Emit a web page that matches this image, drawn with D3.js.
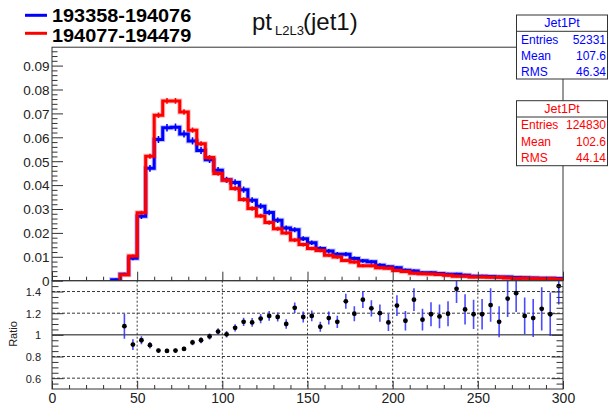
<!DOCTYPE html>
<html><head><meta charset="utf-8">
<script src="https://cdn.jsdelivr.net/npm/d3@7"></script>
<style>
body{margin:0;background:#fff}
svg{display:block}
text{font-family:"Liberation Sans",Arial,Helvetica,sans-serif}
</style>
</head><body>
<svg id="c" width="608" height="408"></svg>
<script>
// ---------------- data ----------------
const binLow = d3.range(0, 300, 5);
const binWidth = 5;
const blueVals = [0,0,0,0,0,0,0,0.0004,0.0027,0.0094,0.0270,0.0470,0.0591,0.0640,0.0642,0.0614,0.0585,0.0545,0.0506,0.0462,
  0.0422,0.0411,0.0381,0.0337,0.0312,0.0285,0.0253,0.0220,0.0213,0.0176,0.0159,0.0135,0.0124,0.0111,0.0111,0.0093,0.0083,0.0079,0.0065,0.0058,
  0.0054,0.0044,0.0041,0.0033,0.0033,0.0030,0.0027,0.0027,0.0023,0.0019,0.0019,0.0018,0.0016,0.0015,0.0013,0.0012,0.0011,0.0010,0.0010,0.0009];
const redVals = [0,0,0,0,0,0,0,0,0.0025,0.0103,0.0284,0.0521,0.0692,0.0752,0.0752,0.0706,0.0630,0.0573,0.0515,0.0449,
  0.0420,0.0386,0.0340,0.0302,0.0271,0.0243,0.0217,0.0200,0.0170,0.0151,0.0135,0.0126,0.0107,0.0099,0.0085,0.0078,0.0063,0.0063,0.0054,0.0052,
  0.0043,0.0039,0.0031,0.0029,0.0028,0.0026,0.0023,0.0019,0.0019,0.0016,0.0016,0.0014,0.0014,0.0011,0.0009,0.0010,0.00095,0.0008,0.00084,0.0006];
const ratioX = d3.range(42.5, 300, 5);
const ratioVals = [1.08,0.91,0.95,0.905,0.855,0.852,0.855,0.87,0.93,0.95,0.985,1.03,1.005,1.065,1.12,1.115,1.15,1.175,1.165,1.10,1.25,
  1.165,1.175,1.075,1.155,1.12,1.31,1.195,1.325,1.245,1.20,1.115,1.27,1.13,1.325,1.14,1.19,1.17,1.195,1.425,1.235,1.19,1.19,1.275,1.12,1.335,1.385,1.175,1.155,1.24,1.19,1.45];
const ratioErr = [0.115,0.05,0.037,0.03,0.02,0.02,0.02,0.02,0.025,0.027,0.028,0.03,0.03,0.034,0.038,0.04,0.043,0.045,0.042,0.043,0.048,
  0.05,0.05,0.046,0.06,0.057,0.07,0.07,0.077,0.075,0.08,0.08,0.095,0.09,0.105,0.1,0.11,0.11,0.115,0.13,0.14,0.135,0.14,0.155,0.143,0.17,0.175,0.17,0.175,0.2,0.2,0.17];
const legendLabels = ["193358-194076", "194077-194479"];
const statsTitle = "Jet1Pt";
const blueStats = [["Entries","52331"],["Mean","107.6"],["RMS","46.34"]];
const redStats  = [["Entries","124830"],["Mean","102.6"],["RMS","44.14"]];
const blueEntries = 52331, redEntries = 124830;
const upperYTicks = [0,0.01,0.02,0.03,0.04,0.05,0.06,0.07,0.08,0.09];
const lowerYTicks = [0.6,0.8,1,1.2,1.4];
const lowerGridY = [0.6,0.8,1.2,1.4];
const xTicks = [0,50,100,150,200,250,300];
const xGrid = [50,100,150,200,250];

// ---------------- layout ----------------
const BLUE = "#0000ff", RED = "#ff0000", AX = "#333";
const svg = d3.select("#c");
const X0 = 52, X1 = 563, UT = 47.2, UB = 280.7, LT = 280.7, LB = 389;
const x = d3.scaleLinear([0, 300], [X0, X1]);
const yU = d3.scaleLinear([0, 0.0977], [UB, UT]);
const yL = d3.scaleLinear([0.5, 1.5], [LB, LT]);

const defs = svg.append("defs");
defs.append("clipPath").attr("id","cu").append("rect").attr("x",X0).attr("y",UT).attr("width",X1-X0).attr("height",UB-UT);
defs.append("clipPath").attr("id","cl").append("rect").attr("x",X0).attr("y",LT).attr("width",X1-X0).attr("height",LB-LT);

// ---------------- upper histograms ----------------
const up = svg.append("g").attr("clip-path","url(#cu)");
function stepPts(vals){
  let i0 = vals.findIndex(v => v > 0);
  const pts = [[binLow[i0], 0]];
  for (let i = i0; i < vals.length; i++){
    pts.push([binLow[i], vals[i]]);
    pts.push([binLow[i] + binWidth, vals[i]]);
  }
  return pts;
}
const line = d3.line().x(d => x(d[0])).y(d => yU(d[1]));
function drawHist(vals, color, N){
  const p = stepPts(vals);
  up.append("path").attr("d", line(p)).attr("fill","none").attr("stroke",color)
    .attr("stroke-width",5).attr("stroke-opacity",0.25).attr("stroke-linejoin","miter");
  up.append("path").attr("d", line(p)).attr("fill","none").attr("stroke",color)
    .attr("stroke-width",3).attr("stroke-linejoin","miter");
  up.append("g").selectAll("line").data(vals.map((v,i)=>({v,i})).filter(d=>d.v>0)).join("line")
    .attr("x1", d => x(binLow[d.i] + binWidth/2)).attr("x2", d => x(binLow[d.i] + binWidth/2))
    .attr("y1", d => yU(d.v + Math.sqrt(d.v / N)) - 1)
    .attr("y2", d => yU(d.v - Math.sqrt(d.v / N)) + 1)
    .attr("stroke", color).attr("stroke-width", 1.6);
}
drawHist(blueVals, BLUE, blueEntries);
drawHist(redVals, RED, redEntries);

// ---------------- upper frame & axes ----------------
svg.append("rect").attr("x",X0).attr("y",UT).attr("width",X1-X0).attr("height",UB-UT)
  .attr("fill","none").attr("stroke",AX).attr("stroke-width",1);

const minorU = d3.range(0, 0.0977, 0.002).filter(v => Math.abs(v*100 - Math.round(v*100)) > 1e-6);
svg.append("g").attr("transform",`translate(${X0},0)`)
  .call(d3.axisRight(yU).tickValues(minorU).tickSize(5.5).tickFormat(""))
  .call(g => g.select(".domain").remove())
  .call(g => g.selectAll("line").attr("stroke",AX));
svg.append("g").attr("transform",`translate(${X0},0)`)
  .call(d3.axisRight(yU).tickValues(upperYTicks).tickSize(11).tickFormat(""))
  .call(g => g.select(".domain").remove())
  .call(g => g.selectAll("line").attr("stroke",AX));
svg.append("g").attr("transform",`translate(${X0-2.5},0)`)
  .call(d3.axisLeft(yU).tickValues(upperYTicks).tickSize(0).tickPadding(0)
    .tickFormat(d => d === 0 ? "0" : d3.format(".2f")(d)))
  .call(g => g.select(".domain").remove())
  .call(g => g.selectAll("text").attr("font-size",13.5).attr("fill","#222")
    .attr("font-family",'"Liberation Sans",Arial,sans-serif').attr("dy","0.36em"));
// upper x ticks (no labels)
const minorX = d3.range(0, 301, 10).filter(v => v % 50 !== 0);
svg.append("g").attr("transform",`translate(0,${UB})`)
  .call(d3.axisTop(x).tickValues(minorX).tickSize(4).tickFormat(""))
  .call(g => g.select(".domain").remove())
  .call(g => g.selectAll("line").attr("stroke",AX));
svg.append("g").attr("transform",`translate(0,${UB})`)
  .call(d3.axisTop(x).tickValues(xTicks).tickSize(9).tickFormat(""))
  .call(g => g.select(".domain").remove())
  .call(g => g.selectAll("line").attr("stroke",AX));

// ---------------- lower ratio panel ----------------
const lo = svg.append("g");
lo.append("g").selectAll("line").data(lowerGridY).join("line")
  .attr("x1",X0).attr("x2",X1).attr("y1",d=>yL(d)).attr("y2",d=>yL(d))
  .attr("stroke","#222").attr("stroke-width",0.9).attr("stroke-dasharray","3,2");
lo.append("g").selectAll("line").data(xGrid).join("line")
  .attr("x1",d=>x(d)).attr("x2",d=>x(d)).attr("y1",LT).attr("y2",LB)
  .attr("stroke","#222").attr("stroke-width",0.9).attr("stroke-dasharray","2,2");
lo.append("line").attr("x1",X0).attr("x2",X1).attr("y1",yL(1)).attr("y2",yL(1))
  .attr("stroke","#111").attr("stroke-width",1);

const pts = ratioX.map((c,i)=>({c, v:ratioVals[i], e:ratioErr[i]}));
const lc = svg.append("g").attr("clip-path","url(#cl)");
lc.append("g").selectAll("line").data(pts).join("line")
  .attr("x1",d=>x(d.c)).attr("x2",d=>x(d.c))
  .attr("y1",d=>yL(d.v+d.e)).attr("y2",d=>yL(d.v-d.e))
  .attr("stroke","#2a2aff").attr("stroke-width",1.6).attr("stroke-opacity",0.85);
lc.append("g").selectAll("circle").data(pts).join("circle")
  .attr("cx",d=>x(d.c)).attr("cy",d=>yL(d.v)).attr("r",2.4).attr("fill","#000");

svg.append("rect").attr("x",X0).attr("y",LT).attr("width",X1-X0).attr("height",LB-LT)
  .attr("fill","none").attr("stroke",AX).attr("stroke-width",1);

const minorL = d3.range(0.55, 1.5, 0.05).map(v => +v.toFixed(2)).filter(v => Math.abs(v*5 - Math.round(v*5)) > 1e-6);
const majorL = lowerYTicks;
[[X0, d3.axisRight], [X1, d3.axisLeft]].forEach(([px, ax]) => {
  svg.append("g").attr("transform",`translate(${px},0)`)
    .call(ax(yL).tickValues(minorL).tickSize(6.5).tickFormat(""))
    .call(g => g.select(".domain").remove())
    .call(g => g.selectAll("line").attr("stroke",AX));
  svg.append("g").attr("transform",`translate(${px},0)`)
    .call(ax(yL).tickValues(majorL).tickSize(11.5).tickFormat(""))
    .call(g => g.select(".domain").remove())
    .call(g => g.selectAll("line").attr("stroke",AX));
});
svg.append("g").attr("transform",`translate(${X0-11},0)`)
  .call(d3.axisLeft(yL).tickValues(lowerYTicks).tickSize(0).tickPadding(0).tickFormat(d3.format("~g")))
  .call(g => g.select(".domain").remove())
  .call(g => g.selectAll("text").attr("font-size",11).attr("fill","#222")
    .attr("font-family",'"Liberation Sans",Arial,sans-serif').attr("dy","0.36em"));
// lower x axis
svg.append("g").attr("transform",`translate(0,${LB})`)
  .call(d3.axisTop(x).tickValues(minorX).tickSize(4).tickFormat(""))
  .call(g => g.select(".domain").remove())
  .call(g => g.selectAll("line").attr("stroke",AX));
svg.append("g").attr("transform",`translate(0,${LB})`)
  .call(d3.axisTop(x).tickValues(xTicks).tickSize(8).tickFormat(""))
  .call(g => g.select(".domain").remove())
  .call(g => g.selectAll("line").attr("stroke",AX));
svg.append("g").attr("transform",`translate(0,${LB})`)
  .call(d3.axisBottom(x).tickValues(xTicks).tickSize(0).tickPadding(4).tickFormat(d3.format("d")))
  .call(g => g.select(".domain").remove())
  .call(g => g.selectAll("text").attr("font-size",14).attr("fill","#222")
    .attr("font-family",'"Liberation Sans",Arial,sans-serif'));
svg.append("text").attr("transform",`translate(17,334) rotate(-90)`).attr("text-anchor","middle")
  .attr("font-size",11).attr("fill","#222").text("Ratio");

// ---------------- title ----------------
const t = svg.append("text").attr("x",252).attr("y",30).attr("font-size",24).attr("fill","#111");
t.append("tspan").text("pt");
t.append("tspan").attr("x",275).attr("y",35).attr("font-size",13).text("L2L3");
t.append("tspan").attr("x",303).attr("y",30).text("(jet1)");

// ---------------- legend ----------------
const legColors = [BLUE, RED];
const leg = svg.append("g");
legendLabels.forEach((lab, i) => {
  const yy = [15.3, 33.3][i];
  leg.append("line").attr("x1",25).attr("x2",47).attr("y1",yy).attr("y2",yy)
    .attr("stroke",legColors[i]).attr("stroke-width",3);
  leg.append("text").attr("transform",`translate(52,${[22,41.5][i]}) scale(1.17,1.05)`)
    .attr("font-size",17).attr("font-weight","bold").attr("fill","#000").text(lab);
});

// ---------------- stats boxes ----------------
function statBox(y0, h, rows, color){
  const g = svg.append("g");
  g.append("rect").attr("x",516.5).attr("y",y0).attr("width",91).attr("height",h)
    .attr("fill","#fff").attr("stroke",AX).attr("stroke-width",1);
  g.append("line").attr("x1",516.5).attr("x2",607.5).attr("y1",y0+16.3).attr("y2",y0+16.3)
    .attr("stroke",AX).attr("stroke-width",1);
  g.append("text").attr("x",562).attr("y",y0+12).attr("text-anchor","middle")
    .attr("font-size",12.5).attr("fill",color).text(statsTitle);
  rows.forEach((r,i) => {
    const yy = y0 + 28.5 + i*16.3;
    g.append("text").attr("x",521).attr("y",yy).attr("font-size",12).attr("fill",color).text(r[0]);
    g.append("text").attr("x",606).attr("y",yy).attr("text-anchor","end").attr("font-size",12).attr("fill",color).text(r[1]);
  });
}
statBox(15, 64, blueStats, BLUE);
statBox(100.7, 65, redStats, RED);
</script>
</body></html>
